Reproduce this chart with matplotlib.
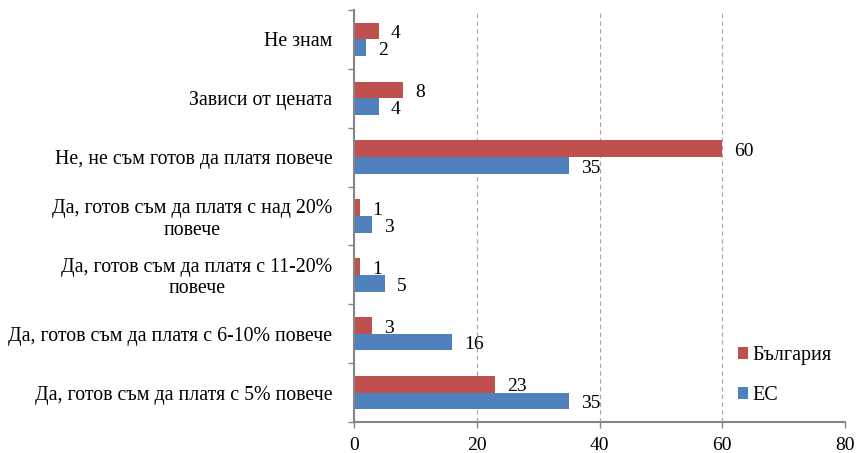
import numpy as np
import matplotlib.pyplot as plt
from matplotlib.ticker import FixedLocator

plt.rcParams['font.family'] = ['Liberation Serif', 'DejaVu Serif']

categories = ["Да, готов съм да платя с 5% повече",
              "Да, готов съм да платя с 6-10% повече",
              "Да, готов съм да платя с 11-20%\nповече",
              "Да, готов съм да платя с над 20%\nповече",
              "Не, не съм готов да платя повече",
              "Зависи от цената",
              "Не знам"]
bulgaria = [23, 3, 1, 1, 60, 8, 4]
eu = [35, 16, 5, 3, 35, 4, 2]
series_names = ["България", "ЕС"]
xticks = [0, 20, 40, 60, 80]

red = '#C0504D'
blue = '#4F81BD'
gray = '#868686'
fs = 14

fig = plt.figure(figsize=(8.58, 4.53), dpi=100)
ax = fig.add_axes([354/858, 1-422/453, 491/858, 412/453])

y = np.arange(len(categories))
h = 0.285
b1 = ax.barh(y + h/2, bulgaria, height=h, color=red, label=series_names[0])
b2 = ax.barh(y - h/2, eu, height=h, color=blue, label=series_names[1])

for bars in (b1, b2):
    for rect in bars:
        w = rect.get_width()
        ax.annotate(f"{w:g}", (w, rect.get_y() + rect.get_height()/2),
                    xytext=(8.5, -2), textcoords='offset points',
                    ha='left', va='center', fontsize=fs)

ax.set_xlim(0, 80)
ax.set_ylim(-0.5, len(categories) - 0.5)
ax.set_xticks(xticks)
ax.set_yticks(y)
ax.set_yticklabels(categories, fontsize=14.3, multialignment='center', linespacing=1.15)
ax.yaxis.set_minor_locator(FixedLocator(np.arange(-0.5, len(categories), 1)))
ax.tick_params(axis='y', which='major', length=0, pad=15.5)
ax.tick_params(axis='y', which='minor', length=4, width=1, color=gray, direction='out')
ax.tick_params(axis='x', length=4, width=1, color=gray, labelsize=fs, pad=7)

ax.xaxis.grid(True, linestyle=(0, (4, 3)), color='#A6A6A6', linewidth=0.8)
ax.set_axisbelow(True)
for s in ('top', 'right'):
    ax.spines[s].set_visible(False)
for s in ('left', 'bottom'):
    ax.spines[s].set_color(gray)
    ax.spines[s].set_linewidth(1.5)

ax.legend(loc='center left', bbox_to_anchor=(738/858, 1-375.5/453),
          bbox_transform=fig.transFigure, frameon=False, fontsize=14.5,
          handlelength=0.52, handleheight=0.52, handletextpad=0.2,
          labelspacing=1.05, borderpad=0, borderaxespad=0)

fig.savefig('out.png', dpi=100)
